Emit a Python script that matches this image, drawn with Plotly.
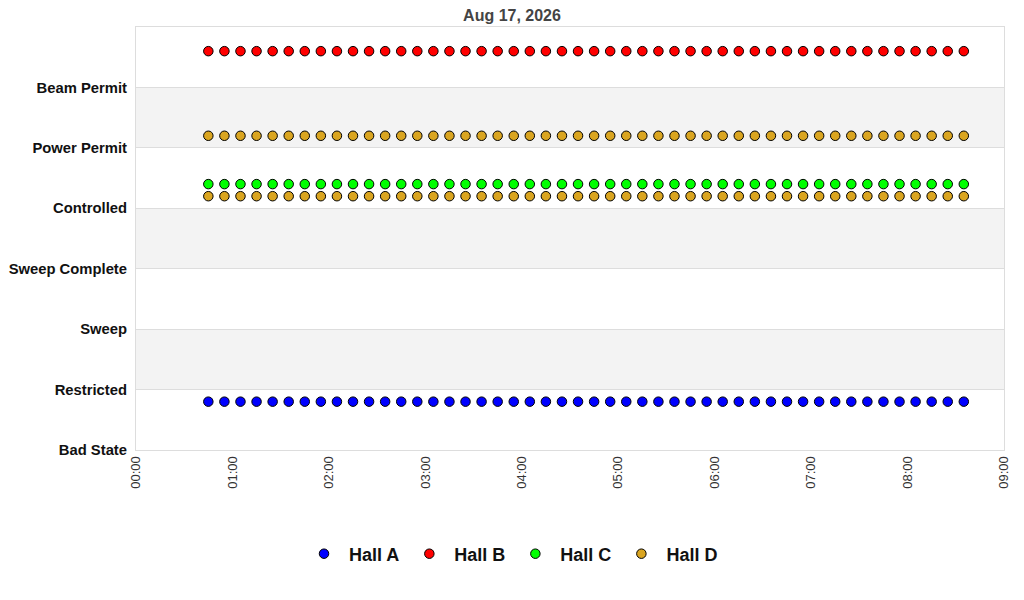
import pandas as pd
import plotly.graph_objects as go

# state levels (bottom to top)
states = ["Bad State", "Restricted", "Sweep", "Sweep Complete",
          "Controlled", "Power Permit", "Beam Permit"]

# sample times, every 10 minutes
times = pd.date_range("2026-08-17 00:45", "2026-08-17 08:35", freq="10min")
n = len(times)

hall_a = [0.8] * n
hall_b = [6.6] * n
hall_c = [4.4] * n
hall_d = [4.2] * n
hall_d2 = [5.2] * n

series = [
    ("Hall A", hall_a, "#0000ff", True),
    ("Hall B", hall_b, "#ff0000", True),
    ("Hall C", hall_c, "#00ff00", True),
    ("Hall D", hall_d, "#daa520", True),
    ("Hall D", hall_d2, "#daa520", False),
]

fig = go.Figure()
for name, vals, col, show in series:
    fig.add_trace(go.Scatter(
        x=times, y=vals, mode="markers", name=name,
        legendgroup=name, showlegend=show,
        marker=dict(color=col, size=9.5, line=dict(color="black", width=1)),
    ))

# alternating grey bands
for lo in [1, 3, 5]:
    fig.add_shape(type="rect", xref="paper", yref="y", x0=0, x1=1,
                  y0=lo, y1=lo + 1, fillcolor="#f3f3f3", line_width=0,
                  layer="below")

# page body has an 8px margin, so the figure is a bit smaller than the window
W, H = 1016, 592
fig.update_layout(
    width=W, height=H,
    paper_bgcolor="white", plot_bgcolor="white",
    margin=dict(l=128, r=20, t=19, b=150, autoexpand=False),
    font=dict(family="Liberation Sans, Arial, sans-serif"),
    title=dict(text="<b>Aug 17, 2026</b>", xref="container", x=504 / W,
               xanchor="center", yref="container", y=1 - 7 / H,
               yanchor="middle", font=dict(size=16, color="#444")),
    legend=dict(orientation="h", xref="container", x=503 / W,
                xanchor="center", yref="container", y=(H - 546) / H,
                yanchor="middle",
                font=dict(size=18, color="#111", weight="bold"),
                itemwidth=40),
    showlegend=True,
)
fig.update_xaxes(
    type="date", range=["2026-08-17 00:00", "2026-08-17 09:00"],
    dtick=3600000, tickformat="%H:%M", tickangle=-90,
    showgrid=False, showline=True, linecolor="#dddddd", mirror=True,
    ticks="", tickfont=dict(size=13, color="#333"), zeroline=False,
)
fig.update_yaxes(
    range=[0, 7], tickvals=list(range(len(states))), ticktext=states,
    showgrid=True, gridcolor="#dddddd", showline=True, linecolor="#dddddd",
    mirror=True, ticks="", zeroline=False, ticklabelstandoff=5,
    tickfont=dict(size=14.8, color="#111", weight="bold"),
)

fig.write_html("out.html")
